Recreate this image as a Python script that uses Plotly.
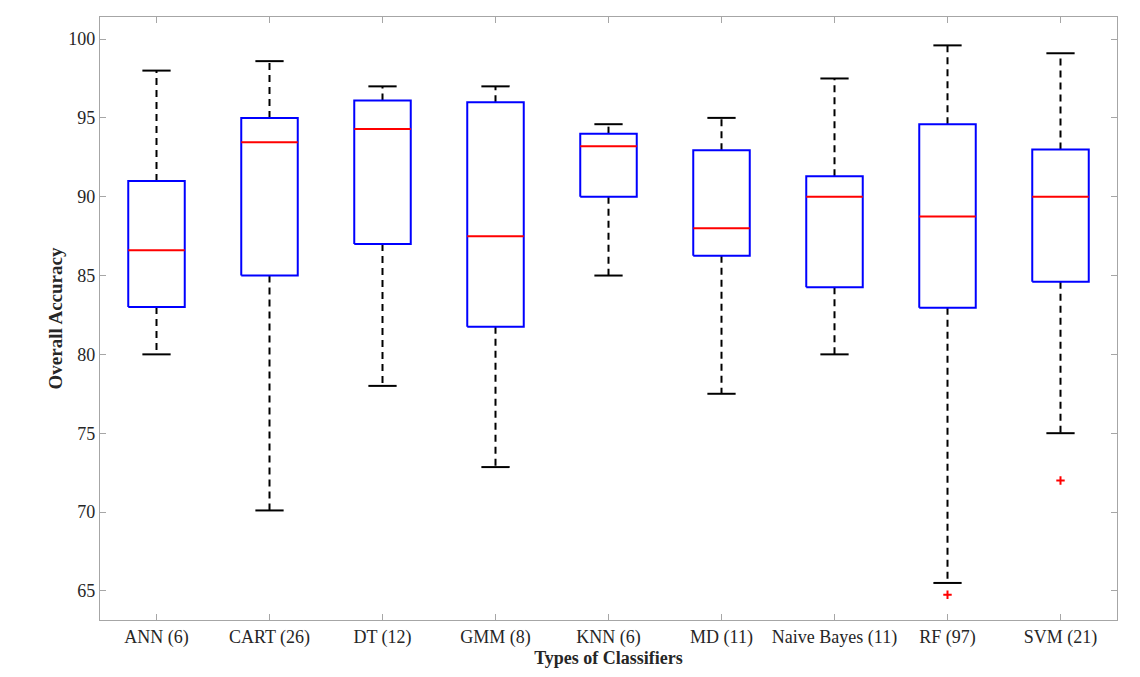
import plotly.graph_objects as go

categories = ["ANN (6)", "CART (26)", "DT (12)", "GMM (8)", "KNN (6)", "MD (11)",
              "Naive Bayes (11)", "RF (97)", "SVM (21)"]
lower_whisker = [80.0, 70.1, 78.0, 72.85, 85.0, 77.5, 80.0, 65.5, 75.0]
q1 = [83.0, 85.0, 87.0, 81.75, 90.0, 86.25, 84.25, 82.95, 84.6]
median = [86.6, 93.45, 94.3, 87.5, 93.2, 88.0, 90.0, 88.75, 90.0]
q3 = [91.0, 95.0, 96.1, 96.0, 94.0, 92.95, 91.3, 94.6, 93.0]
upper_whisker = [98.0, 98.6, 97.0, 97.0, 94.6, 95.0, 97.5, 99.6, 99.1]
outlier_cat = [7, 8]          # indices into categories
outlier_val = [64.75, 72.0]

yticks = [65, 70, 75, 80, 85, 90, 95, 100]

BOX_HALF = 0.25
CAP_HALF = 0.125
FONT = "Liberation Serif, Times New Roman, serif"

pos = list(range(1, len(categories) + 1))

bx, by, mx, my, wx, wy, cx, cy = [], [], [], [], [], [], [], []
for i, p in enumerate(pos):
    bx += [p - BOX_HALF, p + BOX_HALF, p + BOX_HALF, p - BOX_HALF, p - BOX_HALF, None]
    by += [q1[i], q1[i], q3[i], q3[i], q1[i], None]
    mx += [p - BOX_HALF, p + BOX_HALF, None]
    my += [median[i], median[i], None]
    wx += [p, p, None, p, p, None]
    wy += [q3[i], upper_whisker[i], None, q1[i], lower_whisker[i], None]
    cx += [p - CAP_HALF, p + CAP_HALF, None, p - CAP_HALF, p + CAP_HALF, None]
    cy += [upper_whisker[i], upper_whisker[i], None, lower_whisker[i], lower_whisker[i], None]

fig = go.Figure()
fig.add_trace(go.Scatter(x=wx, y=wy, mode="lines",
                         line=dict(color="black", width=2, dash="7px,5px"),
                         hoverinfo="skip", showlegend=False))
fig.add_trace(go.Scatter(x=cx, y=cy, mode="lines",
                         line=dict(color="black", width=2),
                         hoverinfo="skip", showlegend=False))
fig.add_trace(go.Scatter(x=bx, y=by, mode="lines",
                         line=dict(color="#0000FF", width=2),
                         hoverinfo="skip", showlegend=False))
fig.add_trace(go.Scatter(x=mx, y=my, mode="lines",
                         line=dict(color="#FF0000", width=2),
                         hoverinfo="skip", showlegend=False))
fig.add_trace(go.Scatter(x=[pos[k] for k in outlier_cat], y=outlier_val, mode="markers",
                         marker=dict(symbol="cross-thin", size=6, color="#FF0000",
                                     line=dict(color="#FF0000", width=2)),
                         hoverinfo="skip", showlegend=False))

# page body has an 8px margin, so the figure is sized to fit inside the window
fig.update_layout(
    width=1124, height=661,
    margin=dict(l=92, r=15, t=9, b=49),
    paper_bgcolor="white", plot_bgcolor="white",
    font=dict(family=FONT, size=18, color="#262626"),
    showlegend=False,
)
fig.update_xaxes(
    range=[0.5, 9.5], automargin=False,
    tickmode="array", tickvals=pos, ticktext=categories,
    ticks="inside", ticklen=6, tickcolor="#A6A6A6", tickwidth=1,
    showline=True, linecolor="#A6A6A6", linewidth=1.2, mirror="ticks",
    showgrid=False, zeroline=False,
    tickfont=dict(family=FONT, size=18, color="#262626"),
    title=dict(text="<b>Types of Classifiers</b>", standoff=3,
               font=dict(family=FONT, size=18, color="#262626")),
)
fig.update_yaxes(
    range=[63.15, 101.4], automargin=False,
    tickmode="array", tickvals=yticks,
    ticks="inside", ticklen=6, tickcolor="#A6A6A6", tickwidth=1,
    showline=True, linecolor="#A6A6A6", linewidth=1.2, mirror="ticks",
    showgrid=False, zeroline=False,
    tickfont=dict(family=FONT, size=18, color="#262626"),
    title=dict(text="<b>Overall Accuracy</b>", standoff=0,
               font=dict(family=FONT, size=19, color="#262626")),
)

fig.write_html("out.html")
